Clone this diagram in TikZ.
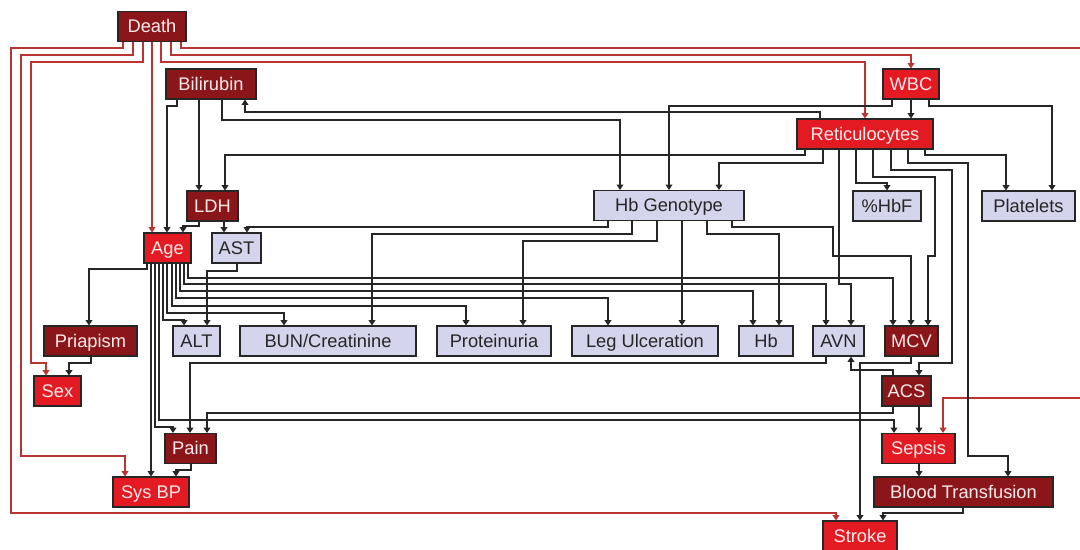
\documentclass[tikz,border=0pt]{standalone}
\usepackage{fontspec}
\setmainfont{Liberation Sans}
\usetikzlibrary{arrows.meta}
\definecolor{hotred}{RGB}{228,26,34}
\definecolor{darkred}{RGB}{138,22,26}
\definecolor{lavender}{RGB}{212,212,236}
\definecolor{linkred}{RGB}{188,52,50}
\definecolor{linkgrey}{RGB}{38,38,38}
\tikzset{->,>={Triangle[length=3.8pt,width=4.8pt]},
every node/.style={font=\fontsize{13}{15}\selectfont, draw=linkgrey, line width=0.8pt, minimum height=0.75cm, inner sep=0pt, text height=2ex, text depth=0.3ex},
hot/.style={fill=hotred, text=white!92!red},
dark/.style={fill=darkred, text=white!92!red},
pale/.style={fill=lavender, text=black!85},
link/.style={draw=linkgrey, line width=0.9pt},
deathlink/.style={draw=linkred, line width=0.8pt},
}

\begin{document}
\begin{tikzpicture}[x=0.025cm, y=-0.025cm]
\useasboundingbox (0,0) rectangle (1080,549);
    \node[dark, minimum width=1.70cm] (death) at (152,26.5) {Death};
    \node[dark, minimum width=2.25cm] (bili) at (211,84) {Bilirubin};
    \node[hot, minimum width=1.40cm] (wbc) at (911,84) {WBC};
    \node[hot, minimum width=3.40cm] (retic) at (865,134) {Reticulocytes};
    \node[pale, minimum width=3.75cm] (hbg) at (669,205.5) {Hb Genotype};
    \node[pale, minimum width=1.70cm] (hbf) at (887,206) {\%HbF};
    \node[pale, minimum width=2.325cm] (plat) at (1028.5,206) {Platelets};
    \node[dark, minimum width=1.275cm] (ldh) at (212.5,206) {LDH};
    \node[hot, minimum width=1.175cm] (age) at (167.5,248) {Age};
    \node[pale, minimum width=1.225cm] (ast) at (236.5,248) {AST};
    \node[dark, minimum width=2.325cm] (pria) at (90.5,341) {Priapism};
    \node[pale, minimum width=1.175cm] (alt) at (196.5,341) {ALT};
    \node[pale, minimum width=4.40cm] (bun) at (328,341) {BUN/Creatinine};
    \node[pale, minimum width=2.85cm] (prot) at (494,341) {Proteinuria};
    \node[pale, minimum width=3.65cm] (leg) at (645,341) {Leg Ulceration};
    \node[pale, minimum width=1.35cm] (hb) at (766,341) {Hb};
    \node[pale, minimum width=1.275cm] (avn) at (838.5,341) {AVN};
    \node[dark, minimum width=1.325cm] (mcv) at (911.5,341) {MCV};
    \node[hot, minimum width=1.175cm] (sex) at (57.5,391) {Sex};
    \node[dark, minimum width=1.225cm] (acs) at (906.5,391) {ACS};
    \node[dark, minimum width=1.275cm] (pain) at (190.5,448.5) {Pain};
    \node[hot, minimum width=1.825cm] (sepsis) at (918.5,448.5) {Sepsis};
    \node[hot, minimum width=1.90cm] (sysbp) at (151,492) {Sys BP};
    \node[dark, minimum width=4.475cm] (bt) at (963.5,492) {Blood Transfusion};
    \node[hot, minimum width=1.85cm] (stroke) at (860,536) {Stroke};
    % death
    \draw[deathlink] (123,0 |- death.south) |- (11,48) |- (836,513) -- (836,0 |- stroke.north);
    \draw[deathlink] (133,0 |- death.south) |- (21,55) |- (125,456) -- (125,0 |- sysbp.north);
    \draw[deathlink] (143,0 |- death.south) |- (31,62) |- (46,363) -- (46,0 |- sex.north);
    \draw[deathlink] (152,0 |- death.south) -- (152,0 |- age.north);
    \draw[deathlink] (161,0 |- death.south) |- (865,62) -- (retic.north);
    \draw[deathlink] (171,0 |- death.south) |- (911,55) -- (wbc.north);
    \draw[deathlink] (181,0 |- death.south) |- (1082,48) |- (943,398) -- (943,0 |- sepsis.north);
    % bilirubin, wbc
    \draw[link] (177,0 |- bili.south) |- (167,106) -- (167,0 |- age.north);
    \draw[link] (199,0 |- bili.south) -- (199,0 |- ldh.north);
    \draw[link] (222,0 |- bili.south) |- (620,120) -- (620,0 |- hbg.north);
    \draw[link] (892,0 |- wbc.south) |- (669,106) -- (669,0 |- hbg.north);
    \draw[link] (911,0 |- wbc.south) -- (911,0 |- retic.north);
    \draw[link] (929,0 |- wbc.south) |- (1052,106) -- (1052,0 |- plat.north);
    % reticulocytes
    \draw[link] (820,0 |- retic.north) |- (245,112) -- (245,0 |- bili.south);
    \draw[link] (805,0 |- retic.south) |- (225,155) -- (225,0 |- ldh.north);
    \draw[link] (823,0 |- retic.south) |- (719,163) -- (719,0 |- hbg.north);
    \draw[link] (839,0 |- retic.south) |- (851,284) -- (851,0 |- avn.north);
    \draw[link] (856,0 |- retic.south) |- (887,183) -- (hbf.north);
    \draw[link] (873,0 |- retic.south) |- (935,177) |- (928,256) -- (928,0 |- mcv.north);
    \draw[link] (891,0 |- retic.south) |- (952,170) |- (919,363) -- (919,0 |- acs.north);
    \draw[link] (908,0 |- retic.south) |- (968,163) |- (1008,456) -- (1008,0 |- bt.north);
    \draw[link] (925,0 |- retic.south) |- (1006,155) -- (1006,0 |- plat.north);
    % hb genotype
    \draw[link] (608,0 |- hbg.south) |- (247,227) -- (247,0 |- ast.north);
    \draw[link] (632,0 |- hbg.south) |- (372,234) -- (372,0 |- bun.north);
    \draw[link] (657,0 |- hbg.south) |- (523,241) -- (523,0 |- prot.north);
    \draw[link] (682,0 |- hbg.south) -- (682,0 |- leg.north);
    \draw[link] (707,0 |- hbg.south) |- (779,234) -- (779,0 |- hb.north);
    \draw[link] (732,0 |- hbg.south) |- (833,227) |- (911,256) -- (911,0 |- mcv.north);
    % ldh, ast
    \draw[link] (199,0 |- ldh.south) |- (183,226) -- (183,0 |- age.north);
    \draw[link] (224,0 |- ldh.south) -- (224,0 |- ast.north);
    \draw[link] (237,0 |- ast.south) |- (207,271) -- (207,0 |- alt.north);
    % age
    \draw[link] (147,0 |- age.south) |- (89,269) -- (89,0 |- pria.north);
    \draw[link] (151,0 |- age.south) -- (151,0 |- sysbp.north);
    \draw[link] (155,0 |- age.south) |- (173,427) -- (173,0 |- pain.north);
    \draw[link] (159,0 |- age.south) |- (894,420) -- (894,0 |- sepsis.north);
    \draw[link] (163,0 |- age.south) |- (184,320) -- (184,0 |- alt.north);
    \draw[link] (167,0 |- age.south) |- (284,313) -- (284,0 |- bun.north);
    \draw[link] (172,0 |- age.south) |- (466,306) -- (466,0 |- prot.north);
    \draw[link] (176,0 |- age.south) |- (608,298) -- (608,0 |- leg.north);
    \draw[link] (180,0 |- age.south) |- (753,291) -- (753,0 |- hb.north);
    \draw[link] (184,0 |- age.south) |- (826,284) -- (826,0 |- avn.north);
    \draw[link] (188,0 |- age.south) |- (893,278) -- (893,0 |- mcv.north);
    % lower part
    \draw[link] (826,0 |- avn.south) |- (190,363) -- (190,0 |- pain.north);
    \draw[link] (893,0 |- acs.south) |- (207,413) -- (207,0 |- pain.north);
    \draw[link] (893,0 |- acs.north) |- (851,370) -- (851,0 |- avn.south);
    \draw[link] (919,0 |- acs.south) -- (919,0 |- sepsis.north);
    \draw[link] (911,0 |- mcv.south) |- (860,363) -- (stroke.north);
    \draw[link] (191,0 |- pain.south) |- (176,470) -- (176,0 |- sysbp.north);
    \draw[link] (91,0 |- pria.south) |- (69,363) -- (69,0 |- sex.north);
    \draw[link] (919,0 |- sepsis.south) -- (919,0 |- bt.north);
    \draw[link] (963,0 |- bt.south) |- (883,513) -- (883,0 |- stroke.north);
\end{tikzpicture}
\end{document}
